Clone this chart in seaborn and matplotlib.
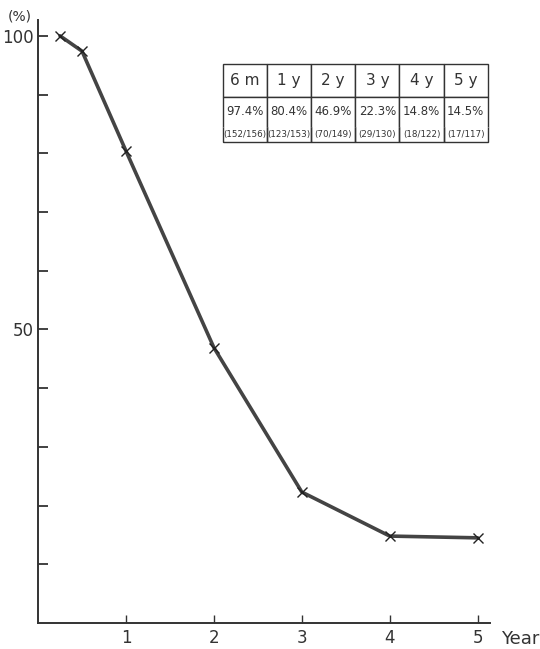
"""
Survival curve after treatment (%), 0-5 years, with a summary table.
"""

import matplotlib
matplotlib.use("Agg")
import matplotlib.pyplot as plt
import seaborn as sns

# data
years = [0.25, 0.5, 1, 2, 3, 4, 5]
survival = [100.0, 97.4, 80.4, 46.9, 22.3, 14.8, 14.5]

table_heads = ["6 m", "1 y", "2 y", "3 y", "4 y", "5 y"]
table_rates = ["97.4%", "80.4%", "46.9%", "22.3%", "14.8%", "14.5%"]
table_counts = ["(152/156)", "(123/153)", "(70/149)", "(29/130)", "(18/122)", "(17/117)"]

y_ticks = [10, 20, 30, 40, 50, 60, 70, 80, 90, 100]
y_ticklabels = ["", "", "", "", "50", "", "", "", "", "100"]
x_ticks = [1, 2, 3, 4, 5]

INK = "#333333"
FONT = ["DejaVu Sans"]


def main() -> None:
    sns.set_theme(style="ticks")
    plt.rcParams["font.family"] = FONT
    plt.rcParams.update({"axes.spines.top": False, "axes.spines.right": False})

    fig = plt.figure(figsize=(5.4, 6.49), dpi=100)
    ax = fig.add_axes([0.0704, 0.0401, 0.8370, 0.9291])

    sns.lineplot(x=years, y=survival, ax=ax, color="#444444", linewidth=2.6,
                 marker="x", markersize=7, markeredgewidth=1.0,
                 markeredgecolor="#222222", zorder=3)

    ax.set_xlim(0, 5.14)
    ax.set_ylim(0, 102.7)
    for side in ("left", "bottom"):
        ax.spines[side].set_color(INK)
        ax.spines[side].set_linewidth(1.4)

    ax.set_yticks(y_ticks)
    ax.set_yticklabels(y_ticklabels)
    ax.set_xticks(x_ticks)
    ax.set_xticklabels([str(t) for t in x_ticks])
    ax.tick_params(axis="y", direction="in", length=7, width=1.3, color=INK,
                   labelsize=12, labelcolor=INK, pad=3)
    ax.tick_params(axis="x", direction="in", length=6, width=1.0, color=INK,
                   labelsize=12, labelcolor=INK, pad=4)

    ax.text(-0.04, 0.995, "(%)", transform=ax.transAxes, ha="center", va="bottom",
            fontsize=10, color=INK)
    ax.text(1.025, -0.026, "Year", transform=ax.transAxes, ha="left", va="center",
            fontsize=13, color=INK)

    cell_text = [table_heads, table_rates, table_counts]
    tbl = ax.table(cellText=cell_text, cellLoc="center",
                   bbox=[0.409, 0.798, 0.586, 0.129])
    tbl.auto_set_font_size(False)
    row_h = [33, 30, 15]
    row_fs = [11, 8.5, 6.3]
    for (r, c), cell in tbl.get_celld().items():
        cell.set_height(row_h[r])
        cell.set_edgecolor(INK)
        cell.set_linewidth(1.0)
        cell.get_text().set_fontsize(row_fs[r])
        cell.get_text().set_color(INK)
        if r == 1:
            cell.visible_edges = "LRT"
        elif r == 2:
            cell.visible_edges = "LRB"

    fig.savefig("out.png", dpi=100)
    plt.close(fig)


if __name__ == "__main__":
    main()
